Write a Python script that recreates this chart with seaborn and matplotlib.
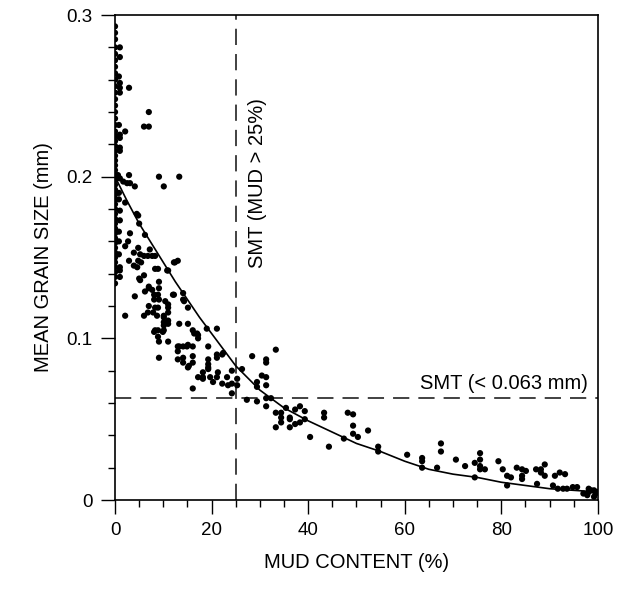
import numpy as np
import pandas as pd
import seaborn as sns
import matplotlib.pyplot as plt
from matplotlib.ticker import MultipleLocator, FuncFormatter

# samples stacked on the y axis (pure sand, 0 % mud)
sand_grain = [0.134, 0.138, 0.141, 0.144, 0.147, 0.150, 0.153, 0.156, 0.159, 0.162,
              0.165, 0.168, 0.171, 0.174, 0.177, 0.180, 0.183, 0.186, 0.189, 0.192,
              0.195, 0.198, 0.201, 0.204, 0.207, 0.210, 0.213, 0.216, 0.219, 0.222,
              0.225, 0.228, 0.232, 0.236, 0.240, 0.244, 0.248, 0.252, 0.256, 0.260,
              0.264, 0.268, 0.272, 0.276, 0.280, 0.285, 0.289, 0.293]

mud = [1, 1, 1, 1, 1, 1, 1, 1, 1, 0.6, 1, 1, 1, 1, 1, 1, 0.8, 0.8, 0.8, 0.8, 0.8, 0.8, 0.8,
       2.1, 2.9, 2.9, 1.7, 2.5, 3.1, 2.1, 3.1, 2.7, 2.1, 2.9, 2.1,
       4.1, 4.5, 4.8, 5.0, 4.8, 3.9, 5.2, 4.8, 5.4, 3.9, 4.6, 5.0, 4.1, 5.2,
       7.0, 6.0, 7.0, 6.2, 7.2, 6.0, 6.8, 6.0, 7.0, 7.7, 6.2, 6.0, 6.8, 7.0, 7.0,
       7.7, 8.3, 8.3, 8.9, 8.9, 8.3, 8.9, 7.9, 8.7, 8.3, 8.9, 8.9, 8.1, 8.1, 9.1, 9.1,
       9.1, 8.1, 9.9, 9.1, 9.1, 9.1,
       10.1, 11.0, 10.4, 11.0, 10.1, 10.1, 10.1, 10.1, 11.0, 10.1, 11.0, 11.0, 11.0, 11.0, 10.8,
       13.3, 13.0, 12.2, 12.0, 12.4, 12.2, 13.3, 13.0, 13.0, 13.0, 13.3,
       14.1, 14.3, 14.1, 14.1, 14.1, 14.1, 14.9, 15.1, 15.1, 15.1, 15.1, 15.3,
       16.1, 16.4, 17.0, 17.2, 17.2, 16.1, 16.1, 16.1, 16.1, 17.2, 18.2, 18.2, 18.2,
       19.0, 19.3, 19.3, 19.3, 19.3, 19.3, 19.7, 20.3, 21.1, 21.1, 21.1, 21.3, 21.1,
       22.2, 22.4, 22.2, 23.2, 23.4, 24.2, 24.2, 24.2, 25.3, 25.3,
       26.3, 27.3, 28.4, 29.4, 29.4, 29.4, 30.4,
       31.3, 31.3, 31.3, 31.3, 31.3, 31.3, 32.3, 33.3, 33.3, 33.3, 34.4, 34.4, 34.4, 35.4,
       36.2, 36.2, 36.2, 37.3, 37.3, 38.3, 38.3, 39.3, 39.3, 40.4,
       43.3, 43.3, 44.3, 47.4, 48.2, 49.3, 49.3, 49.3, 50.3,
       52.4, 54.5, 54.5, 60.5,
       63.6, 63.6, 63.6, 66.7, 67.5, 67.5, 70.6,
       72.5, 74.5, 75.6, 75.6, 75.6, 75.6, 76.6, 74.5,
       79.4, 80.3, 81.2, 82.0, 81.2, 83.2, 84.3, 85.1, 84.3, 84.3,
       87.2, 88.2, 89.0, 88.2, 89.0, 87.4, 90.7, 91.1, 92.1, 93.2, 91.7, 92.8, 93.6, 94.8, 95.7,
       97.0, 98.1, 98.1, 99.2, 99.2, 99.8, 98.6, 97.8, 99.5]

grain = [0.280, 0.274, 0.258, 0.255, 0.252, 0.226, 0.224, 0.218, 0.216, 0.201, 0.199, 0.179,
         0.173, 0.144, 0.142, 0.138, 0.190, 0.186, 0.166, 0.160, 0.152, 0.232, 0.262,
         0.228, 0.255, 0.201, 0.197, 0.196, 0.196, 0.184, 0.165, 0.160, 0.157, 0.148, 0.114,
         0.194, 0.177, 0.176, 0.171, 0.156, 0.153, 0.152, 0.148, 0.147, 0.145, 0.144, 0.137, 0.126, 0.136,
         0.240, 0.231, 0.231, 0.164, 0.155, 0.151, 0.151, 0.139, 0.131, 0.130, 0.129, 0.114, 0.116, 0.132, 0.120,
         0.151, 0.151, 0.143, 0.143, 0.127, 0.119, 0.119, 0.116, 0.114, 0.105, 0.105, 0.101, 0.127, 0.124, 0.135, 0.131,
         0.124, 0.104, 0.104, 0.098, 0.088, 0.200,
         0.194, 0.142, 0.123, 0.119, 0.114, 0.113, 0.110, 0.108, 0.111, 0.105, 0.121, 0.116, 0.109, 0.098, 0.142,
         0.200, 0.148, 0.147, 0.127, 0.147, 0.127, 0.109, 0.095, 0.092, 0.087, 0.095,
         0.128, 0.123, 0.124, 0.095, 0.088, 0.085, 0.095, 0.109, 0.119, 0.096, 0.082, 0.083,
         0.105, 0.103, 0.103, 0.102, 0.100, 0.095, 0.089, 0.085, 0.069, 0.076, 0.079, 0.075, 0.076,
         0.106, 0.095, 0.087, 0.084, 0.082, 0.081, 0.076, 0.073, 0.106, 0.088, 0.090, 0.079, 0.076,
         0.090, 0.091, 0.072, 0.076, 0.071, 0.080, 0.072, 0.066, 0.075, 0.071,
         0.081, 0.062, 0.089, 0.073, 0.070, 0.061, 0.077,
         0.087, 0.085, 0.076, 0.071, 0.063, 0.058, 0.063, 0.093, 0.054, 0.045, 0.054, 0.051, 0.048, 0.057,
         0.051, 0.050, 0.045, 0.056, 0.047, 0.058, 0.048, 0.055, 0.050, 0.039,
         0.054, 0.051, 0.033, 0.038, 0.054, 0.053, 0.046, 0.041, 0.039,
         0.043, 0.033, 0.030, 0.028,
         0.026, 0.024, 0.020, 0.020, 0.035, 0.030, 0.025,
         0.021, 0.023, 0.029, 0.025, 0.021, 0.019, 0.019, 0.014,
         0.024, 0.019, 0.015, 0.014, 0.009, 0.020, 0.019, 0.018, 0.015, 0.013,
         0.019, 0.019, 0.022, 0.017, 0.015, 0.010, 0.009, 0.015, 0.017, 0.016, 0.007, 0.007, 0.007, 0.008, 0.008,
         0.004, 0.007, 0.005, 0.006, 0.002, 0.005, 0.006, 0.003, 0.004]

# fitted trend
fit_mud = [0, 2.5, 5, 7.5, 10, 12.5, 15, 17.5, 20, 22.5, 25, 30, 35, 40, 45, 50,
           55, 60, 65, 70, 75, 80, 85, 90, 95, 100]
fit_grain = [0.200, 0.185, 0.171, 0.159, 0.147, 0.135, 0.124, 0.113, 0.103, 0.093,
             0.083, 0.068, 0.057, 0.049, 0.042, 0.035, 0.030, 0.024, 0.019, 0.016,
             0.014, 0.011, 0.009, 0.007, 0.006, 0.005]

mud_cut = 25
grain_cut = 0.063

df = pd.DataFrame({'mud': [0] * len(sand_grain) + mud, 'grain': sand_grain + grain})
fit = pd.DataFrame({'mud': fit_mud, 'grain': fit_grain})

sns.set_style('ticks')
plt.rcParams.update({
    'font.family': ['Liberation Sans', 'DejaVu Sans'],
    'text.color': 'black',
    'axes.labelcolor': 'black',
    'axes.edgecolor': 'black',
    'axes.linewidth': 1.2,
})

fig = plt.figure(figsize=(6.32, 5.9), dpi=100)
ax = fig.add_axes([0.182, 0.1525, 0.764, 0.822])

sns.scatterplot(x='mud', y='grain', data=df, color='black', s=20, edgecolor='none',
                ax=ax, zorder=3)
sns.lineplot(x='mud', y='grain', data=fit, color='black', lw=1.2, ax=ax, zorder=4)

dash = (0, (9, 5))
ax.plot([mud_cut, mud_cut], [0, 0.3], color='#333333', lw=1.3, ls=dash)
ax.plot([0, 100], [grain_cut, grain_cut], color='#333333', lw=1.3, ls=dash)

ax.text(29.6, 0.196, 'SMT (MUD > 25%)', rotation=90, ha='center', va='center', fontsize=14.5)
ax.text(98, 0.066, 'SMT (< 0.063 mm)', ha='right', va='bottom', fontsize=14.5)

ax.set_xlim(0, 100)
ax.set_ylim(0, 0.3)
ax.set_xlabel('MUD CONTENT (%)', fontsize=14.5, labelpad=10)
ax.set_ylabel('MEAN GRAIN SIZE (mm)', fontsize=14.5, labelpad=10)

ax.xaxis.set_major_locator(MultipleLocator(20))
ax.xaxis.set_minor_locator(MultipleLocator(5))
ax.yaxis.set_major_locator(MultipleLocator(0.1))
ax.yaxis.set_minor_locator(MultipleLocator(0.02))
ax.yaxis.set_major_formatter(FuncFormatter(lambda v, p: '0' if abs(v) < 1e-9 else f'{v:.1f}'))
# tick marks drawn below as collections; labels keep the room they need
ax.tick_params(which='both', length=0)
ax.tick_params(which='major', labelsize=13.5, labelcolor='black', pad=16)


def in_range(locs, lo, hi):
    return [v for v in locs if lo - 1e-9 <= v <= hi + 1e-9]


x_major = in_range(ax.xaxis.get_majorticklocs(), 0, 100)
x_minor = in_range(ax.xaxis.get_minorticklocs(), 0, 100)
y_major = in_range(ax.yaxis.get_majorticklocs(), 0, 0.3)
y_minor = in_range(ax.yaxis.get_minorticklocs(), 0, 0.3)

xt = ax.get_xaxis_transform()
yt = ax.get_yaxis_transform()
ax.vlines(x_major, -0.029, 0, transform=xt, color='black', lw=1.0, clip_on=False)
ax.vlines(x_minor, -0.0145, 0, transform=xt, color='black', lw=1.0, clip_on=False)
ax.hlines(y_major, -0.029, 0, transform=yt, color='black', lw=1.0, clip_on=False)
ax.hlines(y_minor, -0.0145, 0, transform=yt, color='black', lw=1.0, clip_on=False)

fig.savefig('out.png', dpi=100)
